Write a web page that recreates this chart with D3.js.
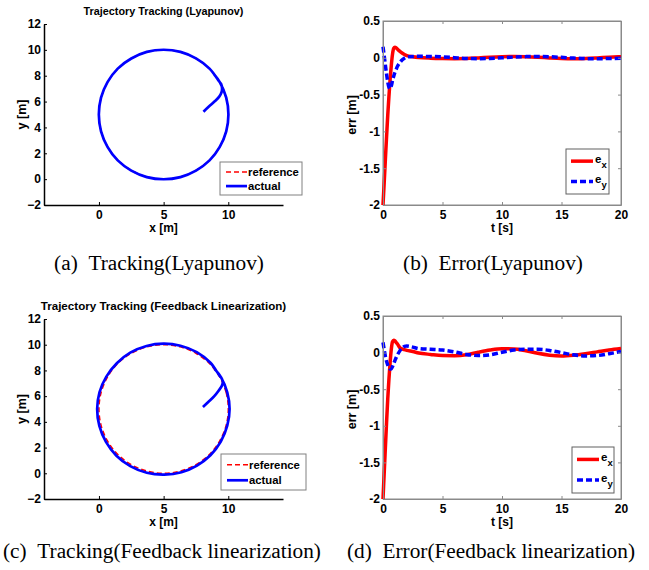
<!DOCTYPE html>
<html><head><meta charset="utf-8">
<script src="https://cdn.jsdelivr.net/npm/d3@7"></script>
<style>body{margin:0;background:#fff} svg{display:block}</style>
</head><body>
<script>
// ---------------- DATA ----------------
const trackXTicks = [0, 5, 10];
const trackYTicks = [-2, 0, 2, 4, 6, 8, 10, 12];
const errXTicks = [0, 5, 10, 15, 20];
const errYTicks = [-2, -1.5, -1, -0.5, 0, 0.5];

// reference circle points (x, y) in metres
const refCircle = [[10,5],[9.83,6.29],[9.33,7.5],[8.54,8.54],[7.5,9.33],[6.29,9.83],[5,10],[3.71,9.83],[2.5,9.33],[1.46,8.54],[0.67,7.5],[0.17,6.29],[0,5],[0.17,3.71],[0.67,2.5],[1.46,1.46],[2.5,0.67],[3.71,0.17],[5,0],[6.29,0.17],[7.5,0.67],[8.54,1.46],[9.33,2.5],[9.83,3.71]];

// actual path, Lyapunov controller
const lyaActual = [[8.08,5.22],[8.5,5.62],[8.95,6.02],[9.3,6.38],[9.47,6.7],[9.52,7.0],[9.45,7.35],[9.3,7.55],[8.55,8.55],[7.5,9.34],[6.3,9.84],[5,10.01],[3.7,9.84],[2.5,9.33],[1.45,8.55],[0.66,7.5],[0.16,6.3],[-0.01,5],[0.16,3.7],[0.66,2.5],[1.45,1.45],[2.5,0.66],[3.7,0.16],[5,-0.01],[6.3,0.16],[7.5,0.66],[8.55,1.45],[9.34,2.5],[9.84,3.7],[10.01,5],[9.84,6.3],[9.34,7.5],[8.9,8.1]];

// actual path, feedback linearization controller
const flActual = [[8.04,5.16],[8.45,5.55],[8.9,5.98],[9.25,6.42],[9.5,6.8],[9.58,7.1],[9.45,7.45],[9.35,7.55],[8.62,8.6],[7.56,9.42],[6.3,9.92],[5,10.08],[3.68,9.9],[2.42,9.38],[1.38,8.56],[0.56,7.5],[0.04,6.3],[-0.14,5],[0.03,3.68],[0.54,2.44],[1.35,1.37],[2.42,0.56],[3.7,0.04],[5.05,-0.1],[6.38,0.08],[7.58,0.6],[8.62,1.4],[9.42,2.46],[9.92,3.7],[10.1,5],[9.92,6.3],[9.42,7.5],[8.95,8.1]];

// time samples for error curves [s]
const tErr = [0,0.1,0.2,0.3,0.4,0.5,0.6,0.7,0.8,0.9,1.0,1.1,1.2,1.4,1.6,1.8,2,2.5,3,4,5,6,7,8,9,10,11,12,13,14,15,16,17,18,19,20];
const exLya = [-2,-1.7,-1.38,-1.07,-0.78,-0.52,-0.29,-0.1,0.05,0.13,0.145,0.135,0.12,0.09,0.065,0.045,0.03,0.015,0.005,-0.005,-0.01,-0.012,-0.01,-0.002,0.008,0.015,0.018,0.015,0.008,-0.002,-0.01,-0.013,-0.01,-0.002,0.008,0.015];
const eyLya = [0.15,0.03,-0.1,-0.22,-0.33,-0.4,-0.42,-0.38,-0.31,-0.25,-0.2,-0.16,-0.12,-0.07,-0.03,-0.005,0.01,0.018,0.02,0.018,0.012,0.002,-0.008,-0.012,-0.008,0.0,0.01,0.016,0.018,0.015,0.006,-0.004,-0.011,-0.013,-0.01,-0.005];
const exFL = [-2,-1.65,-1.3,-0.95,-0.63,-0.36,-0.13,0.05,0.15,0.17,0.16,0.14,0.12,0.07,0.05,0.04,0.03,0.015,-0.005,-0.025,-0.04,-0.042,-0.03,0.005,0.035,0.052,0.05,0.025,-0.01,-0.035,-0.045,-0.035,-0.015,0.01,0.035,0.055];
const eyFL = [0.14,0.04,-0.05,-0.12,-0.17,-0.21,-0.225,-0.22,-0.19,-0.15,-0.11,-0.07,-0.035,0.02,0.06,0.085,0.09,0.075,0.055,0.045,0.035,0.01,-0.025,-0.04,-0.03,0.005,0.035,0.045,0.045,0.03,0.0,-0.03,-0.045,-0.04,-0.015,0.015];

const captions = ["(a)\u00A0\u00A0Tracking(Lyapunov)", "(b)\u00A0\u00A0Error(Lyapunov)", "(c)\u00A0\u00A0Tracking(Feedback linearization)", "(d)\u00A0\u00A0Error(Feedback linearization)"];

// ---------------- DRAW ----------------
const W = 649, H = 570;
const FONT = "'Liberation Sans', Arial, Helvetica, sans-serif";
const SERIF = "'Liberation Serif', 'Times New Roman', serif";
const svg = d3.select("body").append("svg").attr("width", W).attr("height", H)
  .style("background", "#fff");

function styleAxis(g, color, width) {
  g.select(".domain").attr("stroke", color).attr("stroke-width", width);
  g.selectAll(".tick line").attr("stroke", color).attr("stroke-width", 1);
  g.selectAll(".tick text").attr("fill", "#000").style("font-family", FONT)
    .style("font-weight", "bold").style("font-size", "12px");
}

function drawTracking(c) {
  const g = svg.append("g");
  const xs = d3.scaleLinear().domain([-4.25, 14.23]).range([c.x0, c.x1]);
  const ys = d3.scaleLinear().domain([-2, 12]).range([c.y1, c.y0]);

  g.append("path").attr("d", d3.line().x(d => xs(d[0])).y(d => ys(d[1])).curve(d3.curveCatmullRomClosed)(refCircle))
    .attr("fill", "none").attr("stroke", "#ff0000").attr("stroke-width", 1.5).attr("stroke-dasharray", "5,3");
  g.append("path").attr("d", d3.line().x(d => xs(d[0])).y(d => ys(d[1])).curve(d3.curveCatmullRom)(c.actual))
    .attr("fill", "none").attr("stroke", "#0000ff").attr("stroke-width", 2.7).attr("stroke-linejoin", "round");

  const ax = g.append("g").attr("transform", `translate(0,${c.y1})`)
    .call(d3.axisBottom(xs).tickValues(trackXTicks).tickSize(-3).tickSizeOuter(0).tickPadding(5).tickFormat(d3.format("d")));
  styleAxis(ax, "#000", 1.5);
  const ay = g.append("g").attr("transform", `translate(${c.x0},0)`)
    .call(d3.axisLeft(ys).tickValues(trackYTicks).tickSize(-3).tickSizeOuter(0).tickPadding(3).tickFormat(d3.format("d")));
  styleAxis(ay, "#000", 1.5);

  g.append("text").attr("x", (c.x0 + c.x1) / 2).attr("y", c.y0 - 9.5).attr("text-anchor", "middle")
    .style("font-family", FONT).style("font-weight", "bold").style("font-size", c.titleSize).text(c.title);
  g.append("text").attr("x", (c.x0 + c.x1) / 2).attr("y", c.y1 + 27).attr("text-anchor", "middle")
    .style("font-family", FONT).style("font-weight", "bold").style("font-size", "12px").text("x [m]");
  g.append("text").attr("transform", `translate(${c.x0 - 18},${(c.y0 + c.y1) / 2}) rotate(-90)`).attr("text-anchor", "middle")
    .style("font-family", FONT).style("font-weight", "bold").style("font-size", "12.5px").text("y [m]");

  // legend
  const L = c.legend;
  const lg = g.append("g");
  lg.append("rect").attr("x", L.x).attr("y", L.y).attr("width", L.w).attr("height", L.h)
    .attr("fill", "#fff").attr("stroke", "#808080").attr("stroke-width", 1);
  const r1 = L.y + L.h * 0.3, r2 = L.y + L.h * 0.73;
  lg.append("line").attr("x1", L.x + 6).attr("x2", L.x + 27).attr("y1", r1).attr("y2", r1)
    .attr("stroke", "#ff0000").attr("stroke-width", 1.5).attr("stroke-dasharray", "5,3");
  lg.append("line").attr("x1", L.x + 6).attr("x2", L.x + 27).attr("y1", r2).attr("y2", r2)
    .attr("stroke", "#0000ff").attr("stroke-width", 2.7);
  [["reference", r1], ["actual", r2]].forEach(([t, y]) => {
    lg.append("text").attr("x", L.x + 28).attr("y", y + 4).style("font-family", FONT)
      .style("font-weight", "bold").style("font-size", "11.3px").text(t);
  });
}

function drawError(c) {
  const g = svg.append("g");
  const xs = d3.scaleLinear().domain([0, 20]).range([c.x0, c.x1]);
  const ys = d3.scaleLinear().domain([-2, 0.5]).range([c.y1, c.y0]);
  const line = d3.line().x(d => xs(d[0])).y(d => ys(d[1])).curve(d3.curveMonotoneX);
  const gray = "#8a8a8a";

  g.append("rect").attr("x", c.x0).attr("y", c.y0).attr("width", c.x1 - c.x0).attr("height", c.y1 - c.y0)
    .attr("fill", "none").attr("stroke", gray).attr("stroke-width", 1);

  const ex = tErr.map((t, i) => [t, c.ex[i]]);
  const ey = tErr.map((t, i) => [t, c.ey[i]]);
  g.append("path").attr("d", line(ex)).attr("fill", "none").attr("stroke", "#ff0000").attr("stroke-width", 3.5).attr("stroke-linejoin", "round");
  g.append("path").attr("d", line(ey)).attr("fill", "none").attr("stroke", "#0000ff").attr("stroke-width", 3.5).attr("stroke-dasharray", "6,3");

  const ax = g.append("g").attr("transform", `translate(0,${c.y1})`)
    .call(d3.axisBottom(xs).tickValues(errXTicks).tickSize(-3).tickSizeOuter(0).tickPadding(5).tickFormat(d3.format("d")));
  styleAxis(ax, gray, 1);
  const at = g.append("g").attr("transform", `translate(0,${c.y0})`)
    .call(d3.axisTop(xs).tickValues(errXTicks).tickSize(-3).tickSizeOuter(0).tickFormat(""));
  styleAxis(at, gray, 1);
  const ay = g.append("g").attr("transform", `translate(${c.x0},0)`)
    .call(d3.axisLeft(ys).tickValues(errYTicks).tickSize(-3).tickSizeOuter(0).tickPadding(3).tickFormat(d => String(d)));
  styleAxis(ay, gray, 1);
  const ar = g.append("g").attr("transform", `translate(${c.x1},0)`)
    .call(d3.axisRight(ys).tickValues(errYTicks).tickSize(-3).tickSizeOuter(0).tickFormat(""));
  styleAxis(ar, gray, 1);

  g.append("text").attr("x", (c.x0 + c.x1) / 2).attr("y", c.y1 + 27).attr("text-anchor", "middle")
    .style("font-family", FONT).style("font-weight", "bold").style("font-size", "12px").text("t [s]");
  g.append("text").attr("transform", `translate(${c.x0 - 27},${(c.y0 + c.y1) / 2 + 2}) rotate(-90)`).attr("text-anchor", "middle")
    .style("font-family", FONT).style("font-weight", "bold").style("font-size", "12.5px").text("err [m]");

  const L = c.legend;
  const lg = g.append("g");
  lg.append("rect").attr("x", L.x).attr("y", L.y).attr("width", L.w).attr("height", L.h)
    .attr("fill", "#fff").attr("stroke", "#606060").attr("stroke-width", 1);
  const r1 = L.y + L.h * 0.27, r2 = L.y + L.h * 0.72;
  lg.append("line").attr("x1", L.x + 5).attr("x2", L.x + 27).attr("y1", r1).attr("y2", r1)
    .attr("stroke", "#ff0000").attr("stroke-width", 3.5);
  lg.append("line").attr("x1", L.x + 5).attr("x2", L.x + 27).attr("y1", r2).attr("y2", r2)
    .attr("stroke", "#0000ff").attr("stroke-width", 3.5).attr("stroke-dasharray", "6,3");
  [["x", r1], ["y", r2]].forEach(([s, y]) => {
    const t = lg.append("text").attr("x", L.x + 29).attr("y", y + 2).style("font-family", FONT)
      .style("font-weight", "bold").style("font-size", "11.5px");
    t.append("tspan").text("e");
    t.append("tspan").attr("dy", 5).style("font-size", "9.5px").text(s);
  });
}

drawTracking({x0: 44, x1: 283, y0: 24, y1: 205, title: "Trajectory Tracking (Lyapunov)", titleSize: "10.8px", actual: lyaActual,
  legend: {x: 220, y: 162, w: 82, h: 33}});
drawTracking({x0: 44, x1: 283, y0: 319, y1: 499, title: "Trajectory Tracking (Feedback Linearization)", titleSize: "11.6px", actual: flActual,
  legend: {x: 221, y: 454, w: 85, h: 36}});
drawError({x0: 383, x1: 621, y0: 21, y1: 205, ex: exLya, ey: eyLya,
  legend: {x: 566, y: 149, w: 43, h: 45}});
drawError({x0: 383, x1: 621, y0: 316, y1: 499, ex: exFL, ey: eyFL,
  legend: {x: 572, y: 447, w: 42, h: 46}});

const capPos = [[159, 270], [493, 270], [162, 558], [491, 558]];
captions.forEach((t, i) => {
  svg.append("text").attr("x", capPos[i][0]).attr("y", capPos[i][1]).attr("text-anchor", "middle")
    .style("font-family", SERIF).style("font-size", "21.3px").text(t);
});
</script>
</body></html>
